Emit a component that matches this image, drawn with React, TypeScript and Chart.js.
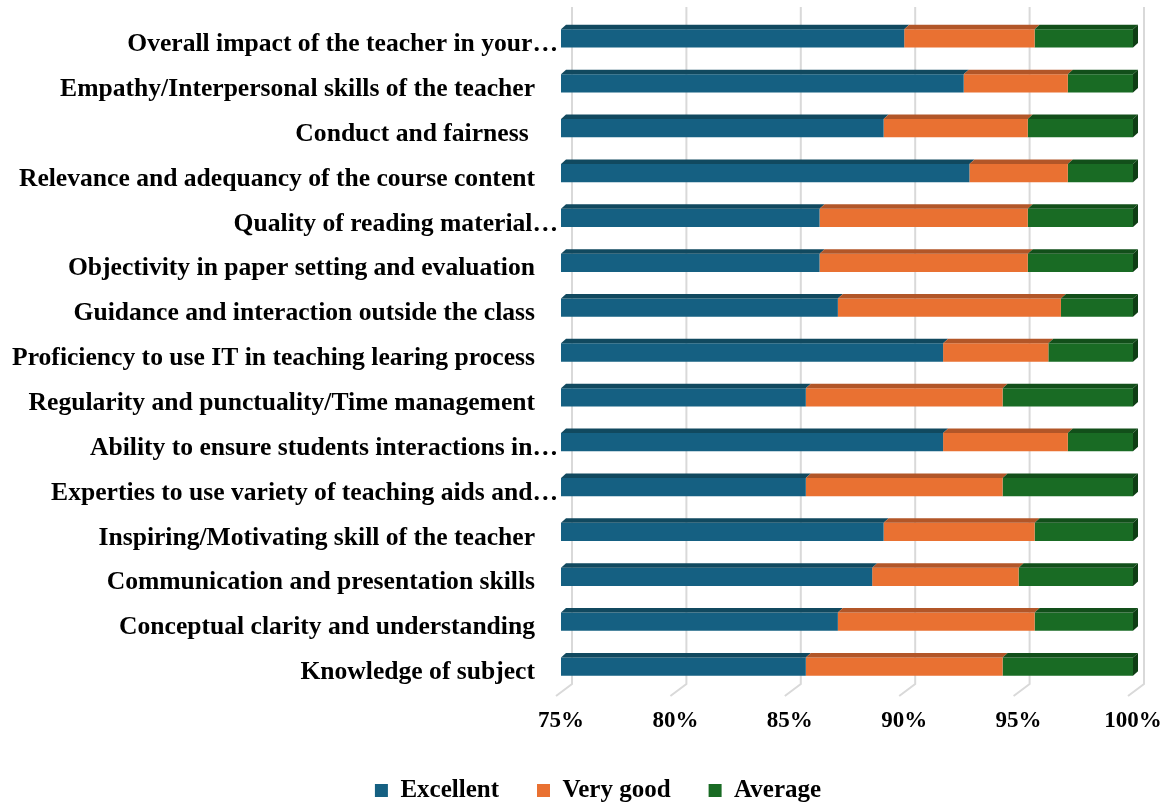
import React, { useEffect, useRef } from "react";
import { Chart, registerables } from "chart.js";

Chart.register(...registerables);

const categories = [
  "Overall impact of the teacher in your…",
  "Empathy/Interpersonal skills of the teacher",
  "Conduct and fairness ",
  "Relevance and adequancy of the course content",
  "Quality of reading material…",
  "Objectivity in paper setting and evaluation",
  "Guidance and interaction outside the class",
  "Proficiency to use IT in teaching learing process",
  "Regularity and punctuality/Time management",
  "Ability to ensure students interactions in…",
  "Experties to use variety of teaching aids and…",
  "Inspiring/Motivating skill of the teacher",
  "Communication and presentation skills",
  "Conceptual clarity and understanding",
  "Knowledge of subject",
];

const excellent = [90.0, 92.6, 89.1, 92.85, 86.3, 86.3, 87.1, 91.7, 85.7, 91.7, 85.7, 89.1, 88.6, 87.1, 85.7];
const veryGood = [5.7, 4.55, 6.3, 4.3, 9.1, 9.1, 9.75, 4.6, 8.6, 5.45, 8.6, 6.6, 6.4, 8.6, 8.6];
const average = [4.3, 2.85, 4.6, 2.85, 4.6, 4.6, 3.15, 3.7, 5.7, 2.85, 5.7, 4.3, 5.0, 4.3, 5.7];

const seriesNames = ["Excellent", "Very good", "Average"];
const xTicks = [75, 80, 85, 90, 95, 100];

const FONT = "'Liberation Serif', 'Times New Roman', serif";
const frontColors = ["#156082", "#E97132", "#196B24"];
const topColors = ["#11495F", "#B25628", "#124F1A"];
const sideColor = "#0E3E14";
const DX = 5;
const DY = 4.5;

export default function App() {
  const ref = useRef<HTMLCanvasElement | null>(null);

  useEffect(() => {
    const canvas = ref.current;
    if (!canvas) return;

    const gridPlugin = {
      id: "grid3d",
      beforeDatasetsDraw(chart: any) {
        const { ctx, chartArea } = chart;
        const x = chart.scales.x;
        ctx.save();
        ctx.strokeStyle = "#D9D9D9";
        ctx.lineWidth = 2;
        xTicks.forEach((v) => {
          const xf = x.getPixelForValue(v);
          const xb = xf + 11;
          ctx.beginPath();
          ctx.moveTo(xb, chartArea.top - 9);
          ctx.lineTo(xb, chartArea.bottom - 5);
          ctx.lineTo(xf - 5, chartArea.bottom + 7);
          ctx.stroke();
        });
        ctx.restore();
      },
    };

    const bar3d = {
      id: "bar3d",
      afterDatasetsDraw(chart: any) {
        const { ctx, chartArea } = chart;
        const n = chart.data.datasets.length;
        ctx.save();
        chart.data.datasets.forEach((_ds: any, di: number) => {
          const meta = chart.getDatasetMeta(di);
          meta.data.forEach((el: any) => {
            const { x, y, base, height } = el.getProps(["x", "y", "base", "height"], true);
            const L = Math.max(Math.min(x, base), chartArea.left);
            const R = Math.min(Math.max(x, base), chartArea.right);
            if (R <= L) return;
            const top = y - height / 2;
            const bottom = y + height / 2;
            ctx.fillStyle = topColors[di];
            ctx.beginPath();
            ctx.moveTo(L, top);
            ctx.lineTo(L + DX, top - DY);
            ctx.lineTo(R + DX, top - DY);
            ctx.lineTo(R, top);
            ctx.closePath();
            ctx.fill();
            if (di === n - 1) {
              ctx.fillStyle = sideColor;
              ctx.beginPath();
              ctx.moveTo(R, top);
              ctx.lineTo(R + DX, top - DY);
              ctx.lineTo(R + DX, bottom - DY);
              ctx.lineTo(R, bottom);
              ctx.closePath();
              ctx.fill();
            }
          });
        });
        ctx.restore();
      },
    };

    const yLabels = {
      id: "yLabels",
      afterDraw(chart: any) {
        const { ctx, chartArea } = chart;
        const yScale = chart.scales.y;
        ctx.save();
        ctx.font = `bold 25.6px ${FONT}`;
        ctx.fillStyle = "#000000";
        ctx.textAlign = "right";
        ctx.textBaseline = "middle";
        (chart.data.labels as string[]).forEach((lab, i) => {
          const yy = yScale.getPixelForValue(i) + 6;
          const xx = chartArea.left - (lab.endsWith("…") ? 3 : 26);
          ctx.fillText(lab, xx, yy);
        });
        ctx.restore();
      },
    };

    const chart = new Chart(canvas, {
      type: "bar",
      data: {
        labels: categories,
        datasets: [
          { label: seriesNames[0], data: excellent, backgroundColor: frontColors[0], borderWidth: 0 },
          { label: seriesNames[1], data: veryGood, backgroundColor: frontColors[1], borderWidth: 0 },
          { label: seriesNames[2], data: average, backgroundColor: frontColors[2], borderWidth: 0 },
        ],
      },
      options: {
        indexAxis: "y",
        animation: false,
        responsive: true,
        maintainAspectRatio: false,
        events: [],
        layout: { padding: { top: 16, right: 33, left: 63, bottom: 0 } },
        datasets: { bar: { barPercentage: 0.407, categoryPercentage: 1 } },
        scales: {
          x: {
            stacked: true,
            min: 75,
            max: 100,
            grid: { display: false, drawTicks: false },
            border: { display: false },
            afterBuildTicks: (s: any) => {
              s.ticks = xTicks.map((v) => ({ value: v }));
            },
            afterFit: (s: any) => {
              s.height = 51;
              s.paddingLeft = 0;
              s.paddingRight = 0;
            },
            ticks: {
              padding: 18,
              color: "#000000",
              font: { family: FONT, size: 23, weight: "bold" },
              callback: (v: any) => `${v}%`,
              maxRotation: 0,
            },
          },
          y: {
            stacked: true,
            grid: { display: false },
            border: { display: false },
            ticks: { display: false },
            afterFit: (s: any) => {
              s.width = 498;
            },
          },
        },
        plugins: {
          tooltip: { enabled: false },
          legend: {
            position: "bottom",
            labels: {
              boxWidth: 13,
              boxHeight: 13,
              padding: 38,
              color: "#000000",
              font: { family: FONT, size: 25, weight: "bold" },
            },
          },
        },
      },
      plugins: [gridPlugin, bar3d, yLabels],
    } as any);

    return () => chart.destroy();
  }, []);

  return (
    <div style={{ position: "fixed", left: 0, top: 0, width: "100vw", height: "calc(100vh + 6px)" }}>
      <canvas ref={ref} />
    </div>
  );
}
